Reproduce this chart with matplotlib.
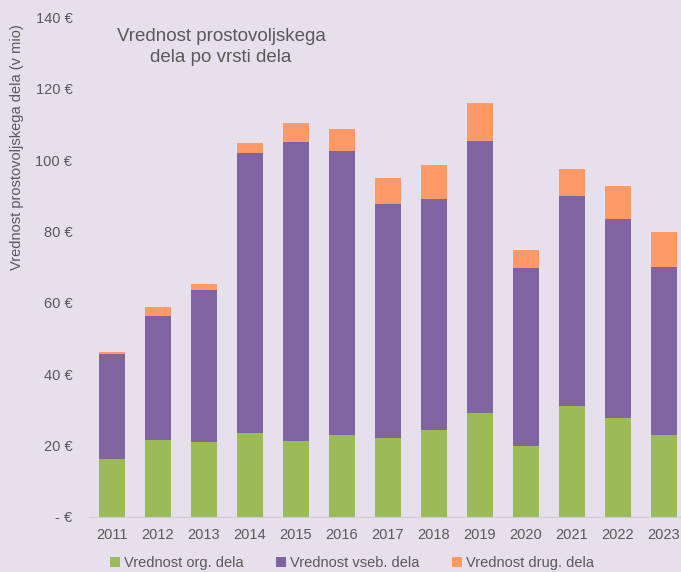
import matplotlib
matplotlib.use("Agg")
import matplotlib.pyplot as plt
import numpy as np
from matplotlib.patches import Patch

years = ["2011", "2012", "2013", "2014", "2015", "2016", "2017", "2018", "2019", "2020", "2021", "2022", "2023"]
org = [16.2, 21.5, 21.0, 23.5, 21.1, 22.9, 22.1, 24.3, 29.0, 19.8, 31.1, 27.6, 22.9]
vseb = [29.3, 34.9, 42.5, 78.6, 83.9, 79.8, 65.5, 64.7, 76.3, 49.9, 58.9, 56.0, 47.1]
drug = [0.7, 2.5, 1.8, 2.6, 5.4, 6.1, 7.5, 9.7, 10.7, 5.1, 7.4, 9.2, 9.8]
series_names = ["Vrednost org. dela", "Vrednost vseb. dela", "Vrednost drug. dela"]
yticks = [0, 20, 40, 60, 80, 100, 120, 140]
ytick_labels = ["- €", "20 €", "40 €", "60 €", "80 €", "100 €", "120 €", "140 €"]

bg = "#E6E0EC"
colors = ["#9BBB59", "#8064A2", "#FF9966"]
txt = "#595959"

plt.rcParams['font.family'] = ['Liberation Sans', 'DejaVu Sans']

fig = plt.figure(figsize=(6.81, 5.72), dpi=100, facecolor=bg)
W, H = 681, 572
ax = fig.add_axes([89 / W, 1 - 516.7 / H, (681 - 89) / W, (516.7 - 17.6) / H])
ax.set_facecolor(bg)

x = np.arange(len(years))
bw = 0.58
org_a = np.array(org)
vseb_a = np.array(vseb)
drug_a = np.array(drug)
ax.bar(x, org_a, bw, color=colors[0], label=series_names[0])
ax.bar(x, vseb_a, bw, bottom=org_a, color=colors[1], label=series_names[1])
ax.bar(x, drug_a, bw, bottom=org_a + vseb_a, color=colors[2], label=series_names[2])

ax.set_xlim(-0.5, 12.37)
ax.set_ylim(0, 140)
ax.set_xticks(x)
ax.set_xticklabels(years, fontsize=10.5, color=txt)
ax.set_yticks(yticks)
ax.set_yticklabels(ytick_labels, fontsize=10.5, color=txt)
ax.tick_params(axis='x', length=0, pad=8)
ax.tick_params(axis='y', length=0, pad=12)
for s in ["top", "right", "left"]:
    ax.spines[s].set_visible(False)
ax.spines["bottom"].set_color("#D0CCD6")

fig.text(17 / W, 1 - 147 / H, "Vrednost prostovoljskega dela (v mio)", rotation=90,
         fontsize=10.5, color=txt, ha="center", va="center")
fig.text(221 / W, 1 - 47 / H, "Vrednost prostovoljskega\ndela po vrsti dela",
         fontsize=13.5, color=txt, ha="center", va="center", linespacing=1.3)

handles = [Patch(facecolor=c, edgecolor='none') for c in colors]
fig.legend(handles, series_names, loc="center", bbox_to_anchor=(352 / W, 1 - 563 / H),
           ncol=3, frameon=False, fontsize=10.5, labelcolor=txt, handlelength=0.7,
           handleheight=0.7, handletextpad=0.3, columnspacing=2.2)

fig.savefig("out.png", dpi=100, facecolor=bg)
